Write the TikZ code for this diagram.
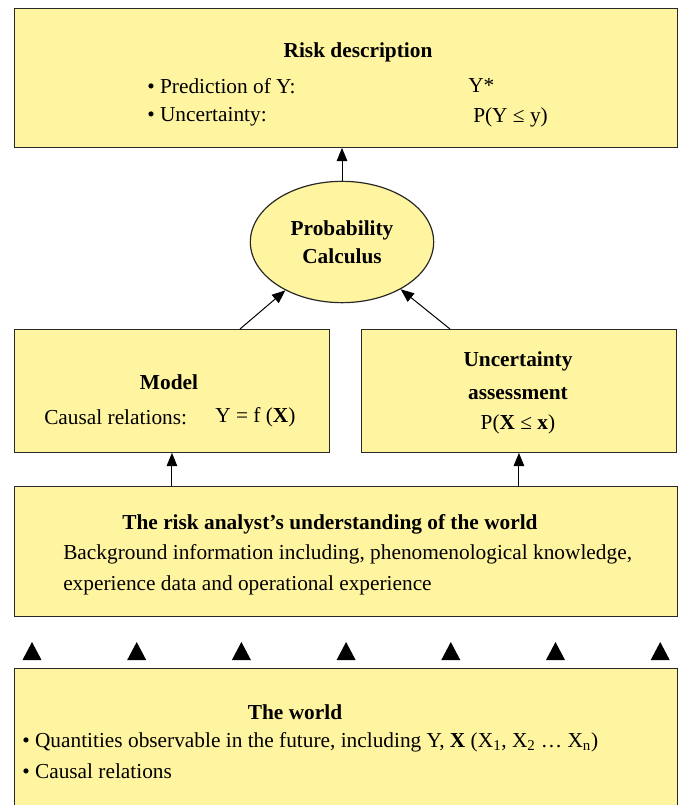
\documentclass[tikz,border=0pt]{standalone}
\usepackage{fontspec}
\setmainfont{Liberation Serif}
\usetikzlibrary{arrows.meta,shapes.geometric}
\definecolor{boxfill}{RGB}{255,245,160}
\definecolor{boxline}{RGB}{40,40,40}
\begin{document}
\begin{tikzpicture}[x=0.75pt,y=0.75pt,yscale=-1,xscale=1,
    box/.style={draw=boxline, fill=boxfill, line width=0.9pt, anchor=north west, inner sep=0pt},
    txt/.style={inner sep=0.75pt, font=\fontsize{16}{21}\selectfont},
    ttl/.style={inner sep=0.75pt, font=\fontsize{16}{21}\selectfont\bfseries},
    arr/.style={-{Triangle[length=10pt,width=8pt]}, line width=0.75pt, draw=black}]
    \useasboundingbox (0,0) rectangle (679,805);
    
    %Shape: Rectangle [risk description]
    \node (risk) [box, minimum width=497pt, minimum height=104pt] at (14,8) {};
    %Shape: Ellipse [probability calculus]
    \node (calc) [ellipse, draw=boxline, fill=boxfill, line width=0.9pt, minimum width=137.5pt, minimum height=91pt, inner sep=0pt, align=center, font=\fontsize{16}{21}\selectfont\bfseries] at (342,242) {Probability\\Calculus};
    %Shape: Rectangle [model]
    \node (model) [box, minimum width=236pt, minimum height=92pt] at (14,329) {};
    %Shape: Rectangle [uncertainty assessment]
    \node (unc) [box, minimum width=236pt, minimum height=92pt] at (361,329) {};
    %Shape: Rectangle [understanding]
    \node (under) [box, minimum width=497pt, minimum height=97.5pt] at (14,486) {};
    %Shape: Rectangle [world]
    \node (world) [box, minimum width=497pt, minimum height=112pt] at (14,668) {};
    
    %Straight Lines [arrows]
    \draw [arr] (calc.north) -- (risk.south -| calc.north);
    \coordinate (mfoot) at (240,329);
    \coordinate (ufoot) at (450,329);
    \draw [arr] (mfoot) -- (calc);
    \draw [arr] (ufoot) -- (calc);
    \draw [arr] (under.north -| model.south) -- (model.south);
    \draw [arr] (under.north -| unc.south) -- (unc.south);
    
    %Shape: Triangles [row]
    \foreach \i in {0,...,6}
      \fill ({32+104.7*\i},642) -- ++(9.5,18) -- ++(-19,0) -- cycle;
    
    % Text Node
    \node (risktitle) [ttl] at (358,52) {Risk description};
    % Text Node
    \node (pred) [txt, anchor=west] at (146,86) {• Prediction of Y:};
    % Text Node
    \node (predval) [txt, anchor=west] at (467,86) {Y*};
    % Text Node
    \node (uncert) [txt, anchor=west] at (146,117) {• Uncertainty:};
    % Text Node
    \node (uncertval) [txt, anchor=west] at (472,117) {P(Y ≤ y)};
    % Text Node
    \node (modeltitle) [ttl] at (169,382) {Model};
    % Text Node
    \node (causal) [txt, anchor=west] at (43,417) {Causal relations:};
    % Text Node
    \node (causalval) [txt, anchor=west] at (214,417) {Y = f (\textbf{X})};
    % Text Node
    \node (unctitle) [ttl, align=center] at (518,376) {Uncertainty\\[4pt]assessment};
    % Text Node
    \node (uncval) [txt] at (518,424) {P(\textbf{X} ≤ \textbf{x})};
    % Text Node
    \node (undertitle) [ttl] at (330,524) {The risk analyst’s understanding of the world};
    % Text Node
    \node (bginfo) [txt, anchor=west, align=left] at (62,570) {Background information including, phenomenological knowledge,\\[2pt]experience data and operational experience};
    % Text Node
    \node (worldtitle) [ttl] at (295,712) {The world};
    % Text Node
    \node (quant) [txt, anchor=west] at (21,742) {• Quantities observable in the future, including Y, \textbf{X} (X\textsubscript{1}, X\textsubscript{2} … X\textsubscript{n})};
    % Text Node
    \node (causes) [txt, anchor=west] at (21,771) {• Causal relations};
    
\end{tikzpicture}
\end{document}
